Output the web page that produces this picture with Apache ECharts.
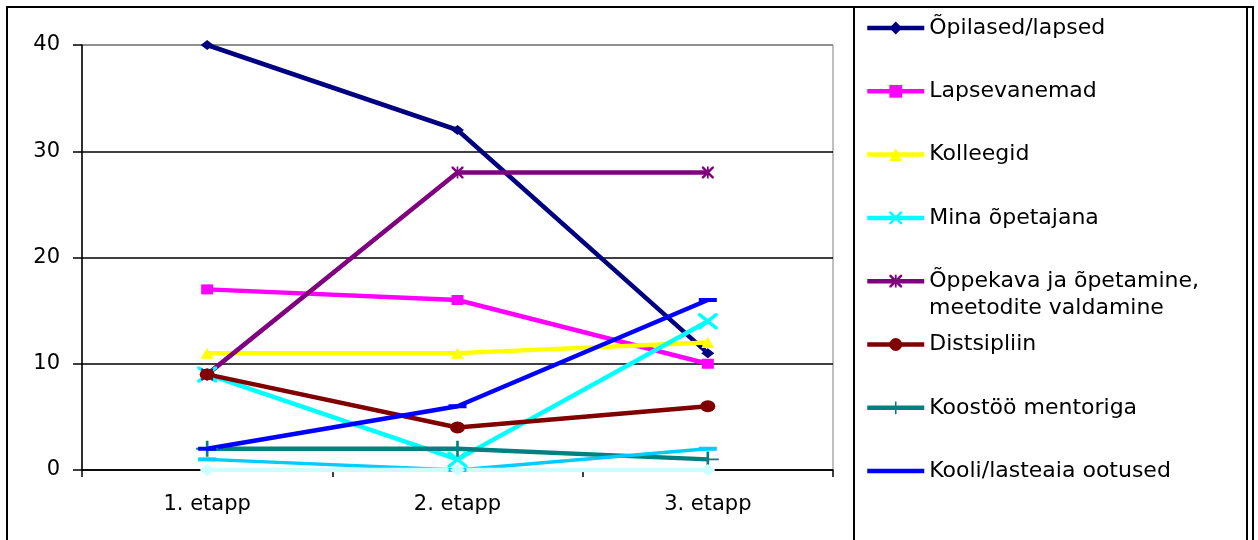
<!DOCTYPE html>
<html>
<head>
<meta charset="utf-8">
<script src="https://cdn.jsdelivr.net/npm/echarts@6/dist/echarts.min.js"></script>
<style>
html,body{margin:0;padding:0;background:#fff;}
#c{width:1258px;height:540px;}
</style>
</head>
<body>
<div id="c"></div>
<script>
const categories = ['1. etapp', '2. etapp', '3. etapp'];
const yTicks = [0, 10, 20, 30, 40];

const names = [
  'Õpilased/lapsed',
  'Lapsevanemad',
  'Kolleegid',
  'Mina õpetajana',
  'Õppekava ja õpetamine, meetodite valdamine',
  'Distsipliin',
  'Koostöö mentoriga',
  'Kooli/lasteaia ootused',
  'Muu 1',
  'Muu 2'
];
const opilased = [40, 32, 11];
const lapsevanemad = [17, 16, 10];
const kolleegid = [11, 11, 12];
const minaOpetajana = [9, 1, 14];
const oppekava = [9, 28, 28];
const distsipliin = [9, 4, 6];
const koostoo = [2, 2, 1];
const kooliOotused = [2, 6, 16];
const muu1 = [1, 0, 2];
const muu2 = [0, 0, 0];

const values = [opilased, lapsevanemad, kolleegid, minaOpetajana, oppekava, distsipliin, koostoo, kooliOotused, muu1, muu2];
const colors = ['#000080', '#FF00FF', '#FFFF00', '#00FFFF', '#800080', '#800000', '#008080', '#0000FF', '#00CCFF', '#CCFFFF'];

const X_PATH = 'path://M0,0 L14,0 L50,36 L86,0 L100,0 L100,14 L64,50 L100,86 L100,100 L86,100 L50,64 L14,100 L0,100 L0,86 L36,50 L0,14 Z';
const PLUS_PATH = 'path://M0,44 H44 V0 H56 V44 H100 V56 H56 V100 H44 V56 H0 Z';
const STAR_PATH = 'path://M0,0 L14,0 L50,36 L86,0 L100,0 L100,14 L64,50 L100,86 L100,100 L86,100 L50,64 L14,100 L0,100 L0,86 L36,50 L0,14 Z M43,0 H57 V100 H43 Z';

const symbols = ['diamond', 'rect', 'triangle', X_PATH, STAR_PATH, 'circle', PLUS_PATH, 'rect', 'rect', 'diamond'];
const symbolSizes = [[13,10], [12,10], [13,11], [20,16], [12,12], [15,12], [22,16], [18,4], [18,4], [15,12]];
const widths = [4.5, 4.5, 4.5, 4.5, 4.5, 4.5, 4.5, 4.5, 3.5, 4.5];

const FONT = 'DejaVu Sans';

const series = names.map((n, i) => ({
  name: n,
  type: 'line',
  data: values[i],
  symbol: symbols[i],
  symbolSize: symbolSizes[i],
  showSymbol: true,
  lineStyle: { color: colors[i], width: widths[i] },
  itemStyle: { color: colors[i], borderWidth: 0 },
  emphasis: { disabled: true },
  animation: false
}));

const legendData = names.slice(0, 8).map((n, i) =>
  i === 7 ? { name: n, icon: 'path://M0,0 H57 V4.5 H0 Z' } : { name: n }
);

const chart = echarts.init(document.getElementById('c'));
chart.setOption({
  animation: false,
  backgroundColor: '#fff',
  grid: { left: 82, right: 425, top: 45, bottom: 70, show: true, borderColor: '#808080', borderWidth: 1 },
  xAxis: {
    type: 'category',
    data: categories,
    boundaryGap: true,
    axisLine: { lineStyle: { color: '#000', width: 1.5 } },
    axisTick: { show: true, length: 7, lineStyle: { color: '#000', width: 1.5 } },
    axisLabel: { color: '#000', fontFamily: FONT, fontSize: 21, margin: 24 },
    splitLine: { show: false }
  },
  yAxis: {
    type: 'value',
    min: yTicks[0],
    max: yTicks[yTicks.length - 1],
    interval: 10,
    axisLine: { show: true, lineStyle: { color: '#000', width: 1.5 } },
    axisTick: { show: true, length: 9, lineStyle: { color: '#000', width: 1.5 } },
    axisLabel: { color: '#000', fontFamily: FONT, fontSize: 21, margin: 22 },
    splitLine: { show: true, lineStyle: { color: ['#000', '#000', '#000', '#000', '#808080'], width: 1.5 } }
  },
  legend: {
    data: legendData,
    orient: 'vertical',
    left: 865,
    top: 17,
    padding: 0,
    itemWidth: 57,
    itemHeight: 16,
    itemGap: 41.3,
    selectedMode: false,
    symbolKeepAspect: true,
    lineStyle: { width: 4.5 },
    textStyle: { color: '#000', fontFamily: FONT, fontSize: 22, lineHeight: 22, padding: [0,0,0,0] },
    formatter: function (n) { return n.indexOf(', ') > 0 ? n.split(', ')[0] + ',' : n; }
  },
  graphic: [
    { type: 'rect', shape: { x: 7, y: 7, width: 1246, height: 600 }, style: { fill: 'none', stroke: '#000', lineWidth: 2 }, silent: true },
    { type: 'rect', shape: { x: 854, y: 7, width: 393, height: 600 }, style: { fill: 'none', stroke: '#000', lineWidth: 2 }, silent: true },
    { type: 'text', left: 929, top: 297, style: { text: 'meetodite valdamine', fill: '#000', font: '22px "DejaVu Sans"' }, silent: true }
  ],
  series: series
});
</script>
</body>
</html>
